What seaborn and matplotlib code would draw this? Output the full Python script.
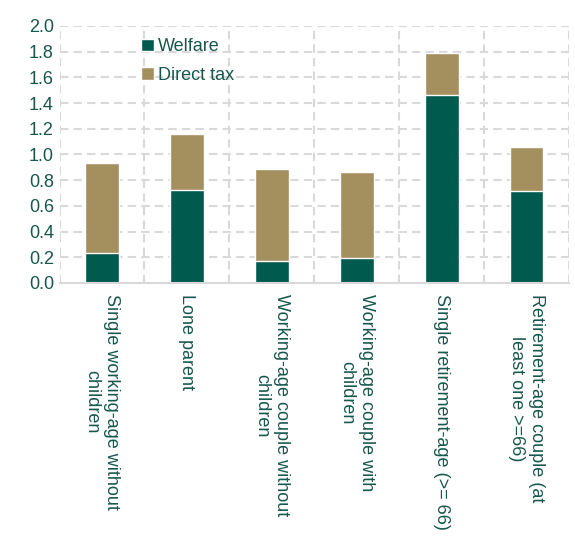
import matplotlib
matplotlib.use("Agg")
import matplotlib.pyplot as plt
import seaborn as sns
import pandas as pd
from matplotlib.patches import Patch

categories = [
    "Single working-age without\nchildren",
    "Lone parent",
    "Working-age couple without\nchildren",
    "Working-age couple with\nchildren",
    "Single retirement-age (>= 66)",
    "Retirement-age couple (at\nleast one >=66)",
]
welfare = [0.235, 0.72, 0.17, 0.195, 1.46, 0.715]
direct_tax = [0.70, 0.44, 0.72, 0.665, 0.33, 0.345]

WELFARE_C = "#005A4E"
TAX_C = "#A48F5E"
TEXT_C = "#17574C"
GRID_C = "#D9D9D9"
FS = 13

sns.set_theme(style="white")
plt.rcParams["font.family"] = ["Liberation Sans", "DejaVu Sans"]

df = pd.DataFrame({"cat": categories, "welfare": welfare, "tax": direct_tax})
df["total"] = df["welfare"] + df["tax"]

fig = plt.figure(figsize=(5.75, 5.39), dpi=100)
ax = fig.add_axes([0.1035, 0.475, 0.886, 0.477])

sns.barplot(data=df, x="cat", y="total", color=TAX_C, width=0.4, saturation=1, ax=ax, zorder=3)
sns.barplot(data=df, x="cat", y="welfare", color=WELFARE_C, width=0.4, saturation=1, ax=ax, zorder=4)

ax.set_ylim(0, 2.0)
ax.set_xlim(-0.5, len(categories) - 0.5)
ax.set_yticks([i / 5 for i in range(11)])
ax.set_yticklabels([f"{i / 5:.1f}" for i in range(11)], color=TEXT_C, fontsize=FS)
ax.set_xlabel("")
ax.set_ylabel("")

# horizontal dashed grid
for yv in [i / 5 for i in range(1, 11)]:
    ax.axhline(yv, color=GRID_C, lw=1.5, ls=(0, (4, 2.5)), zorder=1)
# vertical dashed separators
for xv in [i - 0.5 for i in range(len(categories) + 1)]:
    ax.axvline(xv, color=GRID_C, lw=1.5, ls=(0, (4, 2.5)), zorder=1)

for s in ["top", "right", "left"]:
    ax.spines[s].set_visible(False)
ax.spines["bottom"].set_color(GRID_C)
ax.spines["bottom"].set_linewidth(1.5)
ax.spines["bottom"].set_zorder(5)

ax.tick_params(axis="both", length=0)
ax.tick_params(axis="x", pad=8)
ax.tick_params(axis="y", pad=4)
ax.set_xticks(range(len(categories)))
ax.set_xticklabels(categories, rotation=270, ha="center", va="top",
                   multialignment="center", color=TEXT_C, fontsize=FS)

handles = [Patch(facecolor=WELFARE_C, label="Welfare"), Patch(facecolor=TAX_C, label="Direct tax")]
leg = ax.legend(handles=handles, loc="upper left", bbox_to_anchor=(0.128, 1.015),
                frameon=False, fontsize=FS, handlelength=0.7, handleheight=0.7,
                handletextpad=0.25, labelspacing=0.65)
for t in leg.get_texts():
    t.set_color(TEXT_C)

fig.savefig("out.png", dpi=100, facecolor="white")
